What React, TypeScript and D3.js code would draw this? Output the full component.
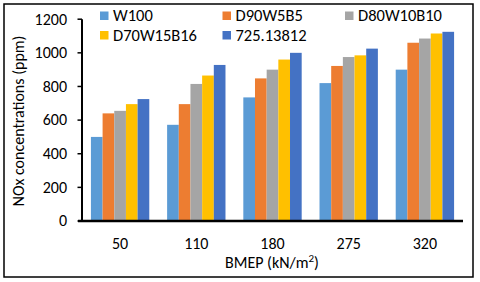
import React from "react";
import * as d3 from "d3";

const categories = ["50", "110", "180", "275", "320"];
const seriesNames = ["W100", "D90W5B5", "D80W10B10", "D70W15B16", "725.13812"];
const W100 = [500, 572, 735, 820, 900];
const D90W5B5 = [640, 695, 848, 922, 1060];
const D80W10B10 = [655, 815, 900, 975, 1085];
const D70W15B16 = [695, 865, 960, 985, 1115];
const S725 = [725, 928, 1000, 1025, 1125];
const seriesValues = [W100, D90W5B5, D80W10B10, D70W15B16, S725];
const colors = ["#5B9BD5", "#ED7D31", "#A5A5A5", "#FFC000", "#4472C4"];
const yTicks = [0, 200, 400, 600, 800, 1000, 1200];

const FONT = "Carlito, 'Open Sans', 'Noto Sans', sans-serif";

export default function App() {
  const W = 480, H = 282;
  const left = 82, right = 463, top = 19.2, bottom = 221;
  const x0 = d3.scaleBand<string>().domain(categories).range([left, right]).paddingInner(0.234).paddingOuter(0.117);
  const x1 = d3.scaleBand<string>().domain(seriesNames).range([0, x0.bandwidth()]);
  const y = d3.scaleLinear().domain([0, 1200]).range([bottom, top]);

  const legendPos = [
    { x: 100, y: 16 },
    { x: 222.5, y: 16 },
    { x: 345, y: 16 },
    { x: 100, y: 35.5 },
    { x: 222.5, y: 35.5 },
  ];

  return (
    <svg width={W} height={H} style={{ position: "absolute", left: 0, top: 0 }} fontFamily={FONT}>
      <rect x={0} y={0} width={W} height={H} fill="#fff" />
      <rect x={4} y={4} width={469} height={273} fill="none" stroke="#000" strokeWidth={1.5} />
      {categories.map((c, i) => (
        <g key={c}>
          {seriesNames.map((s, j) => {
            const v = seriesValues[j][i];
            return (
              <rect
                key={s}
                x={(x0(c) as number) + (x1(s) as number)}
                y={y(v)}
                width={x1.bandwidth()}
                height={bottom - y(v)}
                fill={colors[j]}
              />
            );
          })}
          <text x={(x0(c) as number) + x0.bandwidth() / 2} y={249} fontSize={16} textAnchor="middle" fill="#000">
            {c}
          </text>
        </g>
      ))}
      {yTicks.map((t) => (
        <g key={t}>
          <line x1={77.5} x2={82} y1={y(t)} y2={y(t)} stroke="#000" strokeWidth={1.5} />
          <text x={67} y={y(t) + 5.3} fontSize={16} textAnchor="end" fill="#000">
            {t}
          </text>
        </g>
      ))}
      <line x1={82} x2={82} y1={top} y2={bottom} stroke="#000" strokeWidth={2} />
      <line x1={78} x2={right} y1={bottom} y2={bottom} stroke="#000" strokeWidth={2.5} />
      <text
        transform={`translate(24,121) rotate(-90)`}
        fontSize={16}
        textAnchor="middle"
        fill="#000"
      >
        NOx concentrations (ppm)
      </text>
      <text x={272} y={268} fontSize={16} textAnchor="middle" fill="#000">
        BMEP (kN/m<tspan baselineShift="super" fontSize={11}>2</tspan>)
      </text>
      {seriesNames.map((s, j) => (
        <g key={s}>
          <rect x={legendPos[j].x} y={legendPos[j].y - 4.5} width={8.5} height={8.5} fill={colors[j]} />
          <text x={legendPos[j].x + 13} y={legendPos[j].y + 5} fontSize={16.5} fill="#000">
            {s}
          </text>
        </g>
      ))}
    </svg>
  );
}
